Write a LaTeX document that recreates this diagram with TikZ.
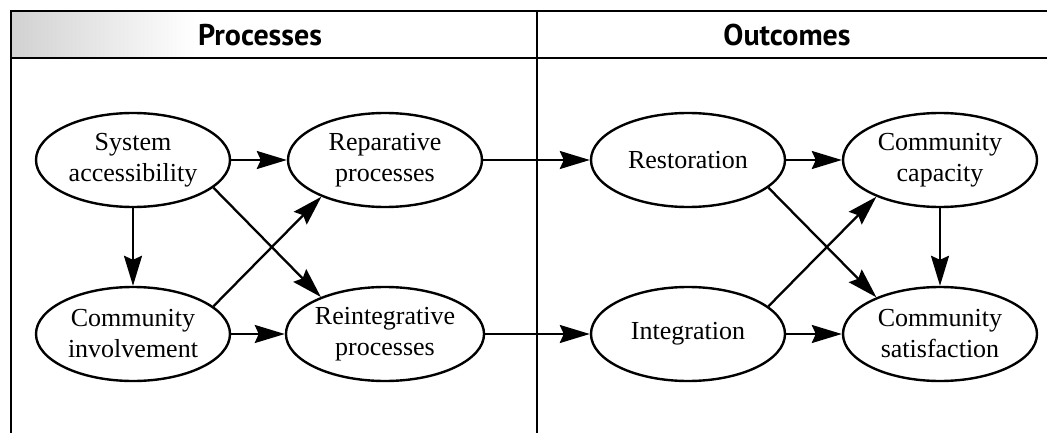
\documentclass[tikz,border=0pt]{standalone}
\usepackage{fontspec}
\setmainfont{Liberation Serif}
\newfontfamily\headfont{PT Sans}
\usetikzlibrary{arrows.meta,shapes.geometric}
\tikzset{
	stage/.style={draw, ellipse, line width=2.4pt, minimum width=194pt, minimum height=94pt, inner sep=0pt, align=center, font=\fontsize{26}{31}\selectfont},
	link/.style={line width=2.3pt, -{Stealth[length=30pt,width=18pt,inset=4pt]}},
	frame/.style={line width=2pt},
	heading/.style={font=\headfont\bfseries\fontsize{30}{32}\selectfont}
}

\begin{document}
\begin{tikzpicture}[x=1pt, y=-1pt]
		%%%%% START %%%%%
		\useasboundingbox (0, 0) rectangle (1047, 433);
		
		\shade[left color=black!18, right color=white] (11, 11) rectangle (195, 58);
		\draw[frame] (1047, 11) -- (11, 11) -- (11, 433);
		\draw[frame] (11, 58) -- (1047, 58);
		\draw[frame] (537, 11) -- (537, 433);
		
		\node[heading] (hproc) at (260, 35) {Processes};
		\node[heading] (hout) at (787, 35) {Outcomes};
		
		\node[stage] (sys) at (133, 160) {System\\accessibility};
		\node[stage] (rep) at (385, 160) {Reparative\\processes};
		\node[stage] (inv) at (133, 334) {Community\\involvement};
		\node[stage] (reint) at (385, 334) {Reintegrative\\processes};
		
		\node[stage] (rest) at (688, 160) {Restoration};
		\node[stage] (cap) at (940, 160) {Community\\capacity};
		\node[stage] (integ) at (688, 334) {Integration};
		\node[stage] (sat) at (940, 334) {Community\\satisfaction};
		
		\draw[link] (sys) -- (rep);
		\draw[link] (sys) -- (inv);
		\draw[link] (sys.-19) -- (reint.150);
		\draw[link] (inv.19) -- (rep.210);
		\draw[link] (inv) -- (reint);
		
		\draw[link] (rep) -- (rest);
		\draw[link] (reint) -- (integ);
		
		\draw[link] (rest) -- (cap);
		\draw[link] (rest.-19) -- (sat.150);
		\draw[link] (integ.19) -- (cap.210);
		\draw[link] (integ) -- (sat);
		\draw[link] (cap) -- (sat);
		
		%%%%% END %%%%%
\end{tikzpicture}
\end{document}
